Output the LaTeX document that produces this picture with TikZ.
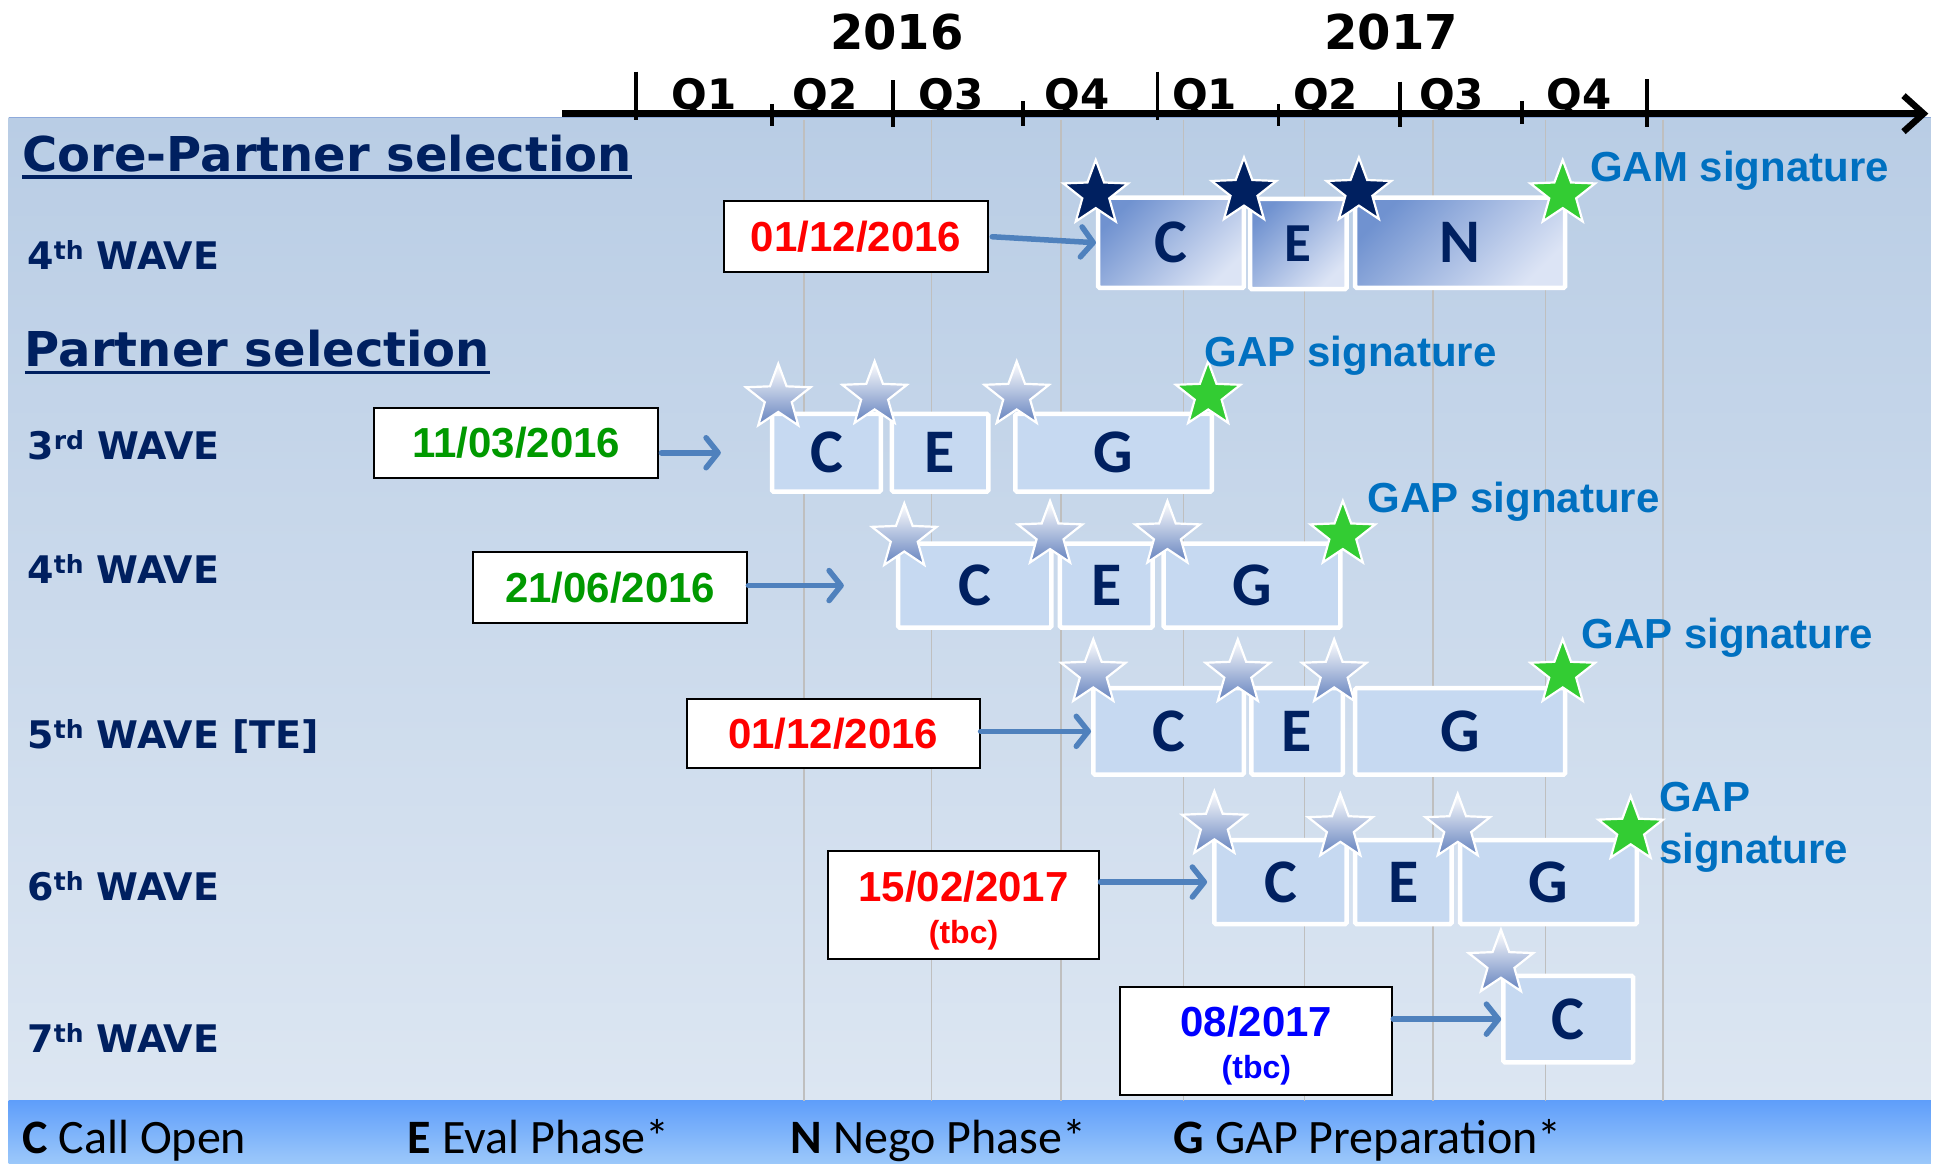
\documentclass[tikz,border=0pt]{standalone}
\usepackage{fontspec}
\usetikzlibrary{shapes.geometric,arrows.meta}
\newfontfamily\dvfont{DejaVu Sans}
\newfontfamily\libfont{Liberation Sans}
\newfontfamily\carlfont{Carlito}
\definecolor{navy}{HTML}{002060}
\definecolor{sigblue}{HTML}{0070C0}
\definecolor{arrblue}{HTML}{4F81BD}
\definecolor{bgtop}{HTML}{B9CDE5}
\definecolor{bgbot}{HTML}{DCE6F2}
\definecolor{boxfill}{HTML}{C6D9F1}
\definecolor{starg}{HTML}{33CC33}
\definecolor{dgreen}{HTML}{009900}
\definecolor{legtop}{HTML}{5F9EFA}
\definecolor{legbot}{HTML}{9CC8FA}
\definecolor{coredark}{HTML}{7092D0}
\definecolor{corelight}{HTML}{DCE4F5}
\definecolor{silver}{HTML}{6482BE}
\definecolor{gridc}{HTML}{BFBFBF}
\definecolor{topline}{HTML}{8EAADB}
\definecolor{dateblue}{HTML}{0000FF}
\newcommand\myul[1]{\setbox0\hbox{#1}\rlap{\color{navy}\rule[-7.5pt]{\wd0}{3.8pt}}\box0}
\newcommand\mysup[1]{\raisebox{10pt}{\fontsize{25}{25}\selectfont #1}}
\begin{document}
\begin{tikzpicture}[x=1.2353pt,y=-1.2353pt,
  sz/.style 2 args={minimum width={#1*1.2353pt}, minimum height={#2*1.2353pt}},
  head/.style={anchor=base west, inner sep=0, text=navy, font=\dvfont\bfseries\fontsize{48}{48}\selectfont},
  wave/.style={anchor=base west, inner sep=0, text=navy, font=\dvfont\bfseries\fontsize{38}{38}\selectfont},
  year/.style={anchor=base, inner sep=0, font=\dvfont\bfseries\fontsize{48}{48}\selectfont},
  qlab/.style={anchor=base, inner sep=0, font=\dvfont\bfseries\fontsize{42}{42}\selectfont},
  phase/.style={draw=white, line width=4.5pt, fill=boxfill, rounded corners=1.5pt, inner sep=0, text=navy, font=\carlfont\bfseries\fontsize{62}{62}\selectfont},
  corephase/.style={phase, top color=coredark, bottom color=corelight, shading angle=45},
  starbase/.style={star, star points=5, star point ratio=2.4, minimum size=68pt, inner sep=0, draw=white, line width=2.2pt},
  navystar/.style={starbase, fill=navy},
  greenstar/.style={starbase, fill=starg},
  silverstar/.style={starbase, top color=white, bottom color=silver},
  datebox/.style={draw=black, line width=2pt, fill=white, inner sep=0, align=center, font=\libfont\bfseries\fontsize{42}{42}\selectfont},
  sig/.style={anchor=west, inner sep=0, text=sigblue, align=left, font=\libfont\bfseries\fontsize{42}{52}\selectfont},
  arr/.style={draw=arrblue, line width=5.5pt, line cap=round, -{Straight Barb[length=12pt,width=30pt,round]}},
  legend/.style={anchor=base west, inner sep=0, font=\carlfont\fontsize{48}{48}\selectfont},
  gridline/.style={draw=gridc, line width=1.5pt},
  tick/.style={draw=black, line width=3.8pt}
]
\useasboundingbox (0,0) rectangle (1568,942);
\fill[white] (0,0) rectangle (1568,942);
% background panels
\shade[top color=bgtop, bottom color=bgbot] (7,95) rectangle (1563,891);
\shade[top color=legtop, bottom color=legbot] (7,891) rectangle (1563,942);
\draw[topline, line width=1.2pt] (7,95) -- (1563,95);
% grid
\foreach \x in {651,754,859,958,1056,1160,1251,1346}
  \draw[gridline] (\x,97) -- (\x,891);
% axis
\coordinate (axL) at (455,92);
\coordinate (axR) at (1561,92);
\draw[line width=6.5pt, -{Straight Barb[length=20pt,width=36pt]}] (axL) -- (axR);
\foreach \x/\a/\b in {515/58/97, 723/65/103, 937/58/97, 1133/66/103, 1333/64/103}
  \draw[tick] (\x,\a) -- (\x,\b);
\foreach \x/\a/\b in {625/84/102, 828/82/102, 1035/84/102, 1232/82/100}
  \draw[tick] (\x,\a) -- (\x,\b);
\node[year] (y16) at (726,40) {2016};
\node[year] (y17) at (1126,40) {2017};
\node[qlab] (q1a) at (570,89) {Q1};
\node[qlab] (q2a) at (668,89) {Q2};
\node[qlab] (q3a) at (770,89) {Q3};
\node[qlab] (q4a) at (872,89) {Q4};
\node[qlab] (q1b) at (975,89) {Q1};
\node[qlab] (q2b) at (1073,89) {Q2};
\node[qlab] (q3b) at (1175,89) {Q3};
\node[qlab] (q4b) at (1278,89) {Q4};
% headings and wave labels
\node[head] (hcore) at (18,139) {\myul{Core-Partner selection}};
\node[head] (hpart) at (20,297) {\myul{Partner selection}};
\node[wave] (w4c) at (22,218) {4\mysup{th} WAVE};
\node[wave] (w3) at (22,372) {3\mysup{rd} WAVE};
\node[wave] (w4) at (22,472) {4\mysup{th} WAVE};
\node[wave] (w5) at (22,606) {5\mysup{th} WAVE [TE]};
\node[wave] (w6) at (22,729) {6\mysup{th} WAVE};
\node[wave] (w7) at (22,852) {7\mysup{th} WAVE};
% core partner 4th wave
\node[corephase, sz={118}{73}] (kC) at (948,196.5) {C};
\node[corephase, sz={78}{73}, font=\carlfont\bfseries\fontsize{55}{55}\selectfont] (kE) at (1051,197.5) {E};
\node[corephase, sz={170}{73}] (kN) at (1182,196.5) {N};
% 3rd wave
\node[phase, sz={88}{63}] (aC) at (669,366.5) {C};
\node[phase, sz={78}{63}] (aE) at (761,366.5) {E};
\node[phase, sz={159}{63}] (aG) at (901.5,366.5) {G};
% 4th wave
\node[phase, sz={124}{68}] (bC) at (789,474) {C};
\node[phase, sz={75}{68}] (bE) at (895.5,474) {E};
\node[phase, sz={143}{68}] (bG) at (1013.5,474) {G};
% 5th wave
\node[phase, sz={122}{70}] (cC) at (946,592) {C};
\node[phase, sz={74}{70}] (cE) at (1050,592) {E};
\node[phase, sz={170}{70}] (cG) at (1182,592) {G};
% 6th wave
\node[phase, sz={107}{68}] (dC) at (1036.5,714) {C};
\node[phase, sz={78}{68}] (dE) at (1136,714) {E};
\node[phase, sz={143}{68}] (dG) at (1253.5,714) {G};
% 7th wave
\node[phase, sz={105}{70}] (eC) at (1269.5,825) {C};
% stars
\node[navystar] (ks1) at (887,157) {};
\node[navystar] (ks2) at (1007,155) {};
\node[navystar] (ks3) at (1100,155) {};
\node[greenstar] (ks4) at (1265,157) {};
\node[silverstar] (as1) at (630,322) {};
\node[silverstar] (as2) at (708,320) {};
\node[silverstar] (as3) at (823,320) {};
\node[greenstar] (as4) at (978,320) {};
\node[silverstar] (bs1) at (732,435) {};
\node[silverstar] (bs2) at (850,433) {};
\node[silverstar] (bs3) at (945,433) {};
\node[greenstar] (bs4) at (1087,433) {};
\node[silverstar] (cs1) at (885,545) {};
\node[silverstar] (cs2) at (1002,545) {};
\node[silverstar] (cs3) at (1080,545) {};
\node[greenstar] (cs4) at (1265,545) {};
\node[silverstar] (ds1) at (983,668) {};
\node[silverstar] (ds2) at (1085,670) {};
\node[silverstar] (ds3) at (1180,670) {};
\node[greenstar] (ds4) at (1320,672) {};
\node[silverstar] (es1) at (1215,780) {};
% signature labels
\node[sig] (gk) at (1287,138) {GAM signature};
\node[sig] (ga) at (975,288) {GAP signature};
\node[sig] (gb) at (1107,406) {GAP signature};
\node[sig] (gc) at (1280,516) {GAP signature};
\node[sig] (gd) at (1343,670) {GAP\\signature};
% date boxes
\node[datebox, sz={214}{57}, text=red] (dk) at (693,191.5) {01/12/2016};
\node[datebox, sz={230}{57}, text=dgreen] (da) at (418,358.5) {11/03/2016};
\node[datebox, sz={222}{57}, text=dgreen] (db) at (494,475.5) {21/06/2016};
\node[datebox, sz={237}{56}, text=red] (dc) at (674.5,594) {01/12/2016};
\node[datebox, sz={220}{87}, text=red] (dd) at (780,732.5) {\rule{0pt}{41pt}15/02/2017\\{\fontsize{32}{42}\selectfont (tbc)}};
\node[datebox, sz={220}{87}, text=dateblue] (de) at (1017,842.5) {\rule{0pt}{41pt}08/2017\\{\fontsize{32}{42}\selectfont (tbc)}};
% arrows
\draw[arr, shorten <=3pt] (dk.east) -- (kC.west);
\draw[arr, shorten <=2pt, shorten >=49pt] (da.east |- aC.west) -- (aC.west);
\draw[arr, shorten >=52pt] (db.east |- bC.west) -- (bC.west);
\draw[arr] (dc.east |- cC.west) -- (cC.west);
\draw[arr, shorten >=5pt] (dd.east |- dC.west) -- (dC.west);
\draw[arr] (de.east |- eC.west) -- (eC.west);
% legend
\node[legend] (l1) at (18,934) {{\bfseries C} Call Open};
\node[legend] (l2) at (330,934) {{\bfseries E} Eval Phase*};
\node[legend] (l3) at (640,934) {{\bfseries N} Nego Phase*};
\node[legend] (l4) at (950,934) {{\bfseries G} GAP Preparation*};
\end{tikzpicture}
\end{document}
